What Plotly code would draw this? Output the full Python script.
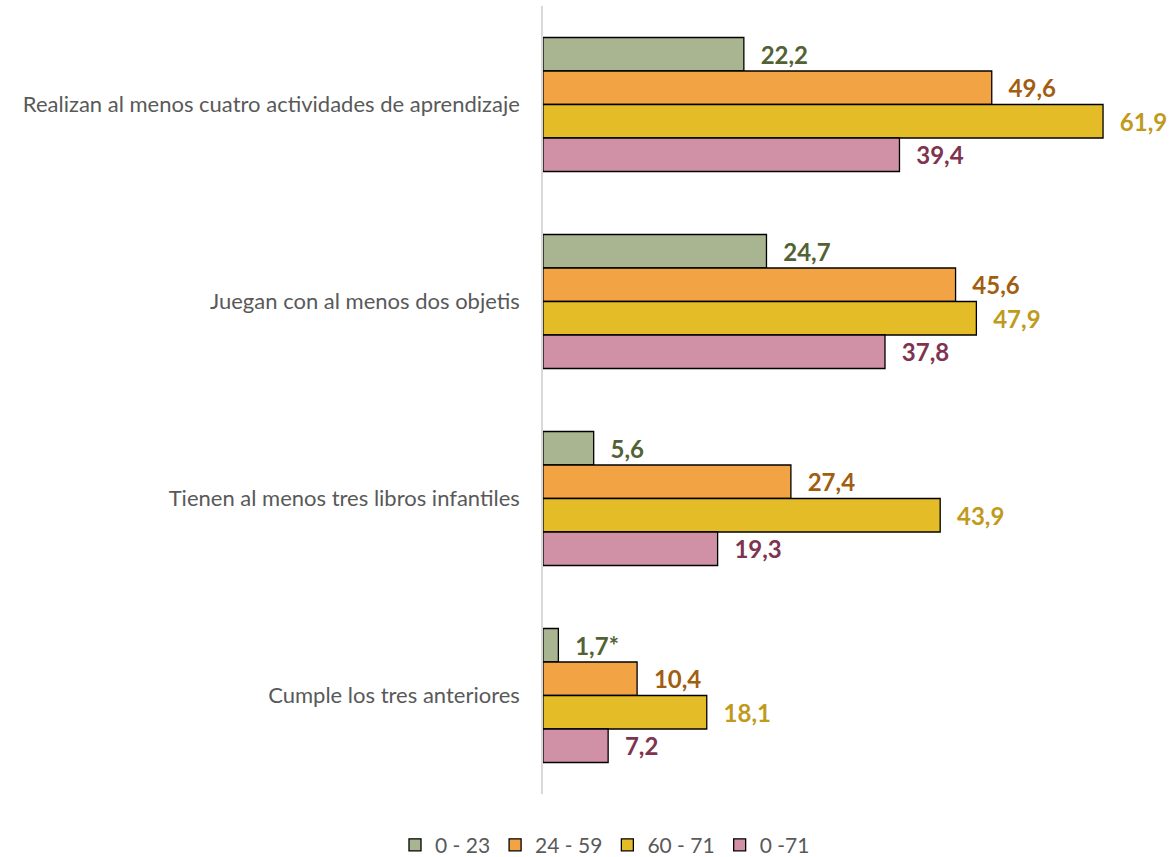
import plotly.graph_objects as go

# categories (top to bottom)
categories = [
    "Realizan al menos cuatro actividades de aprendizaje",
    "Juegan con al menos dos objetis",
    "Tienen al menos tres libros infantiles",
    "Cumple los tres anteriores",
]

series_names = ["0 - 23", "24 - 59", "60 - 71", "0 -71"]

vals_0_23 = [22.2, 24.7, 5.6, 1.7]
vals_24_59 = [49.6, 45.6, 27.4, 10.4]
vals_60_71 = [61.9, 47.9, 43.9, 18.1]
vals_0_71 = [39.4, 37.8, 19.3, 7.2]

# labels marked with an asterisk in the source
flags_0_23 = ["", "", "", "*"]

fills = ["#A8B590", "#F2A445", "#E4BC27", "#D090A6"]
label_colors = ["#526235", "#A25E10", "#C09A1A", "#7E3450"]


def fmt(v, flag=""):
    return f"{v:.1f}".replace(".", ",") + flag


fig = go.Figure()

all_vals = [vals_0_23, vals_24_59, vals_60_71, vals_0_71]
for i, (name, vals) in enumerate(zip(series_names, all_vals)):
    flags = flags_0_23 if i == 0 else [""] * len(vals)
    fig.add_trace(go.Bar(
        y=categories,
        x=vals,
        name=name,
        orientation="h",
        marker=dict(color=fills[i], line=dict(color="#000000", width=1.3)),
        text=[fmt(v, f) for v, f in zip(vals, flags)],
        textposition="outside",
        outsidetextfont=dict(family="Lato", size=24, color=label_colors[i]),
        textfont=dict(family="Lato", size=24, color=label_colors[i]),
        texttemplate="\u00a0\u00a0\u200a<b>%{text}</b>",
        cliponaxis=False,
    ))

fig.update_layout(
    width=1170,
    height=857,
    barmode="group",
    bargap=0.32,
    bargroupgap=0,
    plot_bgcolor="white",
    paper_bgcolor="white",
    margin=dict(l=543, r=0, t=6, b=63, autoexpand=False),
    font=dict(family="Lato", color="#595959"),
    xaxis=dict(range=[0, 69.3], visible=False),
    yaxis=dict(
        autorange="reversed",
        automargin=False,
        showline=True,
        linecolor="#D9D9D9",
        linewidth=1.5,
        ticks="",
        ticklabelstandoff=17,
        tickfont=dict(family="Lato", size=22, color="#595959"),
    ),
    legend=dict(
        orientation="h",
        x=(605 - 543) / 627,
        xanchor="center",
        y=-0.065,
        yanchor="middle",
        font=dict(family="Lato", size=21, color="#595959"),
        itemwidth=30,
        traceorder="normal",
    ),
)

# drop the page's default body margin so the figure fills the window
fig.write_html(
    "out.html",
    config={"displayModeBar": False},
    post_script="document.body.style.margin='0';",
)
